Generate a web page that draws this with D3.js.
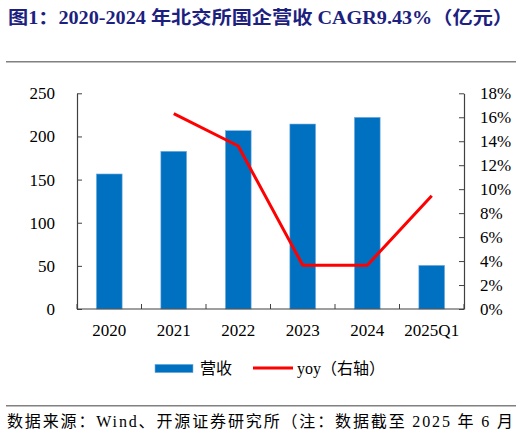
<!DOCTYPE html>
<html lang="zh">
<head>
<meta charset="UTF-8">
<title>北交所国企营收</title>
<script src="https://cdn.jsdelivr.net/npm/d3@7/dist/d3.min.js"></script>
<style>
  body { margin: 0; background: #fff; }
  text { font-family: "Liberation Serif", "Noto Sans CJK SC", serif; }
</style>
</head>
<body>
<div class="chart"></div>
<script>
  // data
  let categories = ['2020', '2021', '2022', '2023', '2024', '2025Q1']
  let revenue = [156.5, 182.8, 206.7, 214.4, 222.2, 50.6]
  let yoy = [null, 16.3, 13.6, 3.65, 3.65, 9.45]
  let leftTicks = [0, 50, 100, 150, 200, 250]
  let rightTicks = [0, 2, 4, 6, 8, 10, 12, 14, 16, 18]

  let W = 522, H = 436
  let m = {left: 77, right: 58, top: 93.3, bottom: 127}
  let svg = d3.select('.chart').append('svg').attr('width', W).attr('height', H)

  // title
  svg.append('text').attr('x', 8).attr('y', 24)
    .attr('textLength', 505).attr('lengthAdjust', 'spacingAndGlyphs')
    .attr('font-size', 18).attr('font-weight', 'bold').attr('fill', '#1c2180')
    .text('图1：2020-2024 年北交所国企营收 CAGR9.43%（亿元）')
  svg.append('line').attr('x1', 6).attr('x2', 516).attr('y1', 61.7).attr('y2', 61.7)
    .attr('stroke', '#808080').attr('stroke-width', 1.5)

  let x = d3.scaleBand().domain(categories).range([m.left, W - m.right]).paddingInner(0.6).paddingOuter(0.3)
  let yL = d3.scaleLinear().domain([0, 250]).range([H - m.bottom, m.top])
  let yR = d3.scaleLinear().domain([0, 18]).range([H - m.bottom, m.top])

  let g = svg.append('g')
  g.selectAll('rect.bar').data(revenue).enter().append('rect').attr('class', 'bar')
    .attr('x', (d, i) => x(categories[i]))
    .attr('y', d => yL(d))
    .attr('width', x.bandwidth())
    .attr('height', d => yL(0) - yL(d))
    .attr('fill', '#0070c0').attr('stroke', '#7fb4e0').attr('stroke-width', 0.6)

  let line = d3.line()
    .defined(d => d != null)
    .x((d, i) => x(categories[i]) + x.bandwidth() / 2)
    .y(d => yR(d))
  g.append('path').datum(yoy).attr('d', line)
    .attr('fill', 'none').attr('stroke', '#ff0000').attr('stroke-width', 3).attr('stroke-linejoin', 'round')

  // axes
  let axisColor = '#404040'
  let leftAxis = d3.axisLeft(yL).tickValues(leftTicks).tickSizeInner(-5).tickSizeOuter(0).tickPadding(22)
  let gl = svg.append('g').attr('transform', 'translate(' + m.left + ',0)').call(leftAxis)
  let rightAxis = d3.axisRight(yR).tickValues(rightTicks).tickSizeInner(-5).tickSizeOuter(0).tickPadding(16)
    .tickFormat(d => d + '%')
  let gr = svg.append('g').attr('transform', 'translate(' + (W - m.right) + ',0)').call(rightAxis)

  // bottom axis with ticks at category boundaries
  let gb = svg.append('g').attr('transform', 'translate(0,' + yL(0) + ')')
  gb.append('line').attr('x1', m.left).attr('x2', W - m.right).attr('stroke', axisColor).attr('stroke-width', 1.2)
  d3.range(categories.length + 1).forEach(i => {
    let bx = m.left + i * (W - m.left - m.right) / categories.length
    gb.append('line').attr('x1', bx).attr('x2', bx).attr('y1', 0).attr('y2', -5).attr('stroke', axisColor)
  })
  gb.selectAll('text').data(categories).enter().append('text')
    .attr('x', d => x(d) + x.bandwidth() / 2).attr('y', 27)
    .attr('text-anchor', 'middle').attr('font-size', 17).attr('fill', '#000')
    .text(d => d)

  ;[gl, gr].forEach(a => {
    a.select('.domain').attr('stroke', axisColor).attr('stroke-width', 1.2)
    a.selectAll('.tick line').attr('stroke', axisColor)
    a.selectAll('.tick text').attr('font-size', 17).attr('fill', '#000')
      .style('font-family', '"Liberation Serif", serif')
  })

  // legend
  let lg = svg.append('g')
  lg.append('rect').attr('x', 155).attr('y', 364.3).attr('width', 38).attr('height', 8.4)
    .attr('fill', '#0070c0').attr('stroke', '#7fb4e0').attr('stroke-width', 0.6)
  lg.append('text').attr('x', 200).attr('y', 374).attr('font-size', 16).text('营收')
  lg.append('line').attr('x1', 253).attr('x2', 293).attr('y1', 368).attr('y2', 368)
    .attr('stroke', '#ff0000').attr('stroke-width', 3)
  lg.append('text').attr('x', 297).attr('y', 374).attr('font-size', 16).text('yoy（右轴）')

  // footer
  svg.append('line').attr('x1', 6).attr('x2', 516).attr('y1', 405.7).attr('y2', 405.7)
    .attr('stroke', '#808080').attr('stroke-width', 1.5)
  svg.append('text').attr('x', 7).attr('y', 427)
    .attr('textLength', 506).attr('lengthAdjust', 'spacing')
    .attr('font-size', 16).attr('fill', '#000')
    .text('数据来源：Wind、开源证券研究所（注：数据截至 2025 年 6 月')
</script>
</body>
</html>
